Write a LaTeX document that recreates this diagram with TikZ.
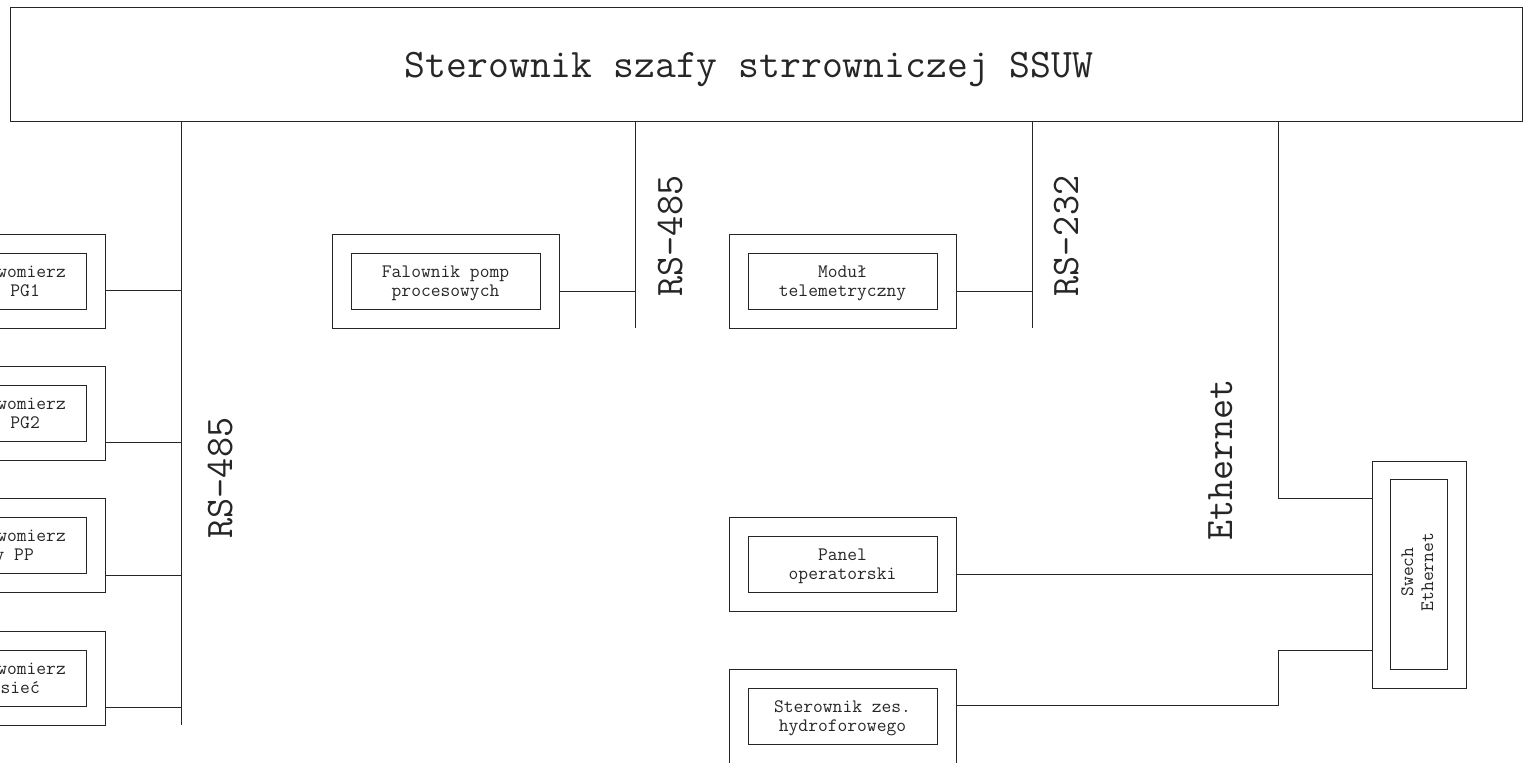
\documentclass[tikz,border=0pt]{standalone}
\usepackage{fontspec}
\usetikzlibrary{calc}
\begin{document}
\begin{tikzpicture}[x=1pt,y=-1pt,
  ink/.style={draw=black!85, line width=1pt},
  wire/.style={ink},
  outerbox/.style={ink, inner sep=0pt, minimum width=227pt, minimum height=94pt},
  innerbox/.style={ink, inner sep=0pt, minimum width=189pt, minimum height=56pt},
  small/.style={text=black!85, inner sep=0pt, font=\ttfamily\fontsize{19}{19}\selectfont},
  big/.style={text=black!85, inner sep=0pt, font=\ttfamily\fontsize{39}{39}\selectfont},
]
\useasboundingbox (0,0) rectangle (1524,763);

% main controller
\node[ink, inner sep=0pt, minimum width=1512pt, minimum height=114pt] (ssuw) at (766,64) {};
\node[big, font=\ttfamily\fontsize{40.5}{40.5}\selectfont, anchor=base] (ssuw-t) at (749,77)
  {Sterownik szafy strrowniczej SSUW};

% bus lines and turning points
\coordinate (bus1) at (181,725);
\coordinate (bus2) at (635,328);
\coordinate (bus3) at (1032,328);
\coordinate (eth) at (1278,498);
\coordinate (hydturn) at (1278,650);

\draw[wire] (ssuw.south -| bus1) -- (bus1);
\draw[wire] (ssuw.south -| bus2) -- (bus2);
\draw[wire] (ssuw.south -| bus3) -- (bus3);

% flow meters on the left RS-485 bus
\foreach \name/\cy/\two/\twoend/\wy in
  {pg1/281/PG1/40/290, pg2/413.5/PG2/40/442, pp/545.5/{wody PP}/34/575, siec/678.5/{wody sieć}/40/707}{
  \node[outerbox] (\name) at (-8.5,\cy) {};
  \node[innerbox] (\name-in) at (\name.center) {};
  \node[small, anchor=base east] (\name-t1) at (66,\cy-4) {Przepływomierz};
  \node[small, anchor=base east] (\name-t2) at (\twoend,\cy+15) {\two};
  \draw[wire] (\name.east |- 0,\wy) -- (bus1 |- 0,\wy);
}

% devices in the middle column
\foreach \name/\cx/\cy/\one/\two in
  {fal/445.5/281/{Falownik pomp}/procesowych,
   mod/842.5/281/{Moduł}/telemetryczny,
   pan/842.5/564.5/Panel/operatorski,
   hyd/842.5/716/{Sterownik zes.}/hydroforowego}{
  \node[outerbox] (\name) at (\cx,\cy) {};
  \node[innerbox] (\name-in) at (\name.center) {};
  \node[small, anchor=base] (\name-t1) at (\cx,\cy-4) {\one};
  \node[small, anchor=base] (\name-t2) at (\cx,\cy+15) {\two};
}

\draw[wire] (fal.east |- 0,291) -- (bus2 |- 0,291);
\draw[wire] (mod.east |- 0,291) -- (bus3 |- 0,291);

% Ethernet switch
\node[ink, inner sep=0pt, minimum width=94pt, minimum height=227pt] (sw) at (1419,574.5) {};
\node[ink, inner sep=0pt, minimum width=57pt, minimum height=190pt] (sw-in) at (sw.center) {};
\node[small, rotate=90, anchor=base] (sw-t1) at (1413,572) {Swech};
\node[small, rotate=90, anchor=base] (sw-t2) at (1433,572) {Ethernet};

\draw[wire] (ssuw.south -| eth) -- (eth) -- (sw.west |- eth);
\draw[wire] (pan.east |- 0,574) -- (sw.west |- 0,574);
\draw[wire] (hyd.east |- 0,705) -- (hydturn |- 0,705) -- (hydturn) -- (sw.west |- hydturn);

% bus labels
\node[big, rotate=90, anchor=base] (lab1) at (232,478) {RS-485};
\node[big, rotate=90, anchor=base] (lab2) at (682,236) {RS-485};
\node[big, rotate=90, anchor=base] (lab3) at (1078,236) {RS-232};
\node[big, rotate=90, anchor=base] (lab4) at (1232,460) {Ethernet};
\end{tikzpicture}
\end{document}
